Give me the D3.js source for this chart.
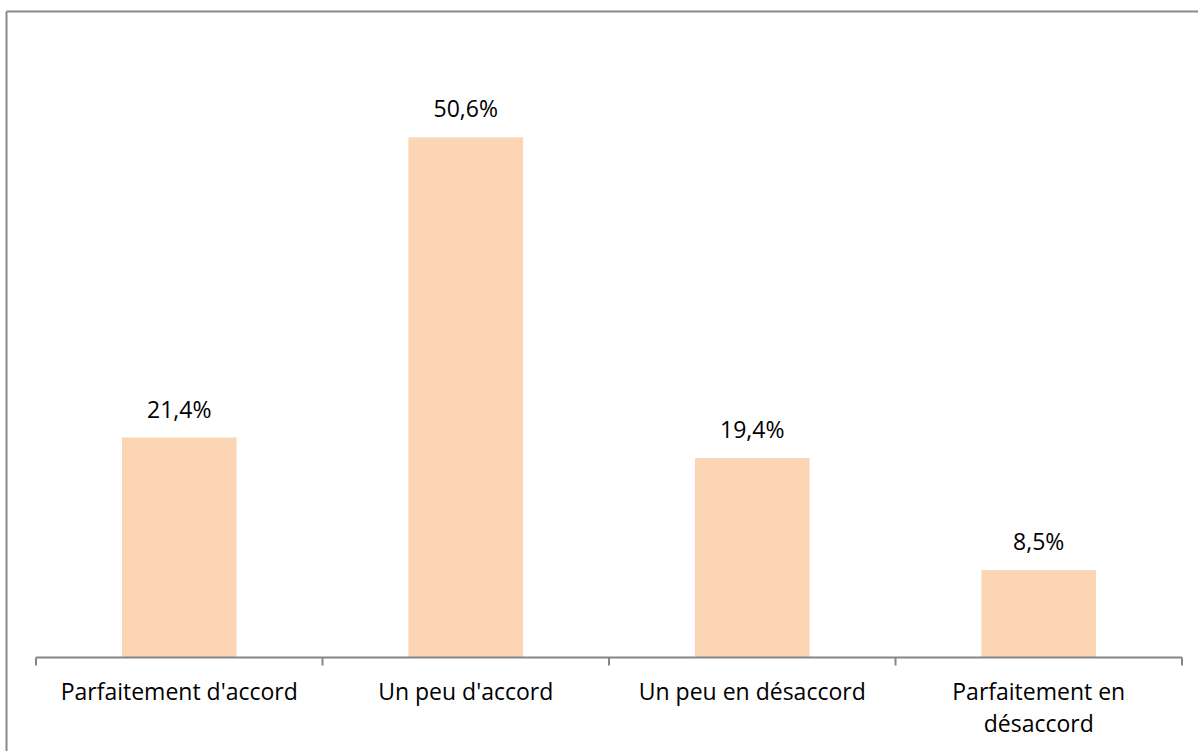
<!DOCTYPE html>
<html>
<head>
<meta charset="utf-8">
<script src="https://cdn.jsdelivr.net/npm/d3@7"></script>
<style>
  body { margin: 0; background: #fff; }
  svg { display: block; }
  text { font-family: "Open Sans", "Noto Sans", sans-serif; fill: #000; }
</style>
</head>
<body>
<div id="chart"></div>
<script>
// chart data
var categories = ["Parfaitement d'accord", "Un peu d'accord", "Un peu en désaccord", "Parfaitement en désaccord"];
var values = [21.4, 50.6, 19.4, 8.5];
var valueLabels = ["21,4%", "50,6%", "19,4%", "8,5%"];

var svgWidth = 1198;
var svgHeight = 751;

// plot area
var x0 = 36, x1 = 1182;
var baseY = 657.5;

var svg = d3.select("#chart")
    .append("svg")
    .attr("width", svgWidth)
    .attr("height", svgHeight);

// chart frame (only top and left visible in the crop)
svg.append("line")
    .attr("x1", 6.5).attr("y1", 11.5).attr("x2", svgWidth).attr("y2", 11.5)
    .attr("stroke", "#898989").attr("stroke-width", 2);
svg.append("line")
    .attr("x1", 6.5).attr("y1", 11.5).attr("x2", 6.5).attr("y2", svgHeight)
    .attr("stroke", "#898989").attr("stroke-width", 2);

// scales
var xScale = d3.scaleBand()
    .domain(categories)
    .range([x0, x1])
    .paddingInner(0.6)
    .paddingOuter(0.3);

var yScale = d3.scaleLinear()
    .domain([0, 60])
    .range([baseY, baseY - 60 * 10.28]);

// bars
svg.selectAll("rect.bar")
    .data(values)
    .enter()
    .append("rect")
    .attr("class", "bar")
    .attr("x", (d, i) => xScale(categories[i]))
    .attr("y", d => yScale(d))
    .attr("width", xScale.bandwidth())
    .attr("height", d => yScale(0) - yScale(d))
    .attr("fill", "#FCD5B5");

// value labels
svg.selectAll("text.val")
    .data(values)
    .enter()
    .append("text")
    .attr("class", "val")
    .attr("x", (d, i) => xScale(categories[i]) + xScale.bandwidth() / 2)
    .attr("y", d => yScale(d) - 20)
    .attr("text-anchor", "middle")
    .attr("font-size", 23)
    .text((d, i) => valueLabels[i]);

// x axis line with ticks at band boundaries
var tickXs = d3.range(categories.length + 1).map(i => x0 + i * (x1 - x0) / categories.length);
var axis = svg.append("g");
axis.append("line")
    .attr("x1", x0).attr("x2", x1)
    .attr("y1", baseY).attr("y2", baseY)
    .attr("stroke", "#868686").attr("stroke-width", 2);
axis.selectAll("line.tick")
    .data(tickXs)
    .enter()
    .append("line")
    .attr("class", "tick")
    .attr("x1", d => d).attr("x2", d => d)
    .attr("y1", baseY).attr("y2", baseY + 8)
    .attr("stroke", "#868686").attr("stroke-width", 2);

// category labels (wrapped to two lines when too wide)
var labelLines = [["Parfaitement d'accord"], ["Un peu d'accord"], ["Un peu en désaccord"], ["Parfaitement en", "désaccord"]];
var labels = svg.selectAll("text.cat")
    .data(categories)
    .enter()
    .append("text")
    .attr("class", "cat")
    .attr("text-anchor", "middle")
    .attr("font-size", 23);
labels.each(function (d, i) {
    var t = d3.select(this);
    var cx = xScale(d) + xScale.bandwidth() / 2;
    labelLines[i].forEach(function (line, j) {
        t.append("tspan")
            .attr("x", cx)
            .attr("y", 700 + j * 31.5)
            .text(line);
    });
});
</script>
</body>
</html>
